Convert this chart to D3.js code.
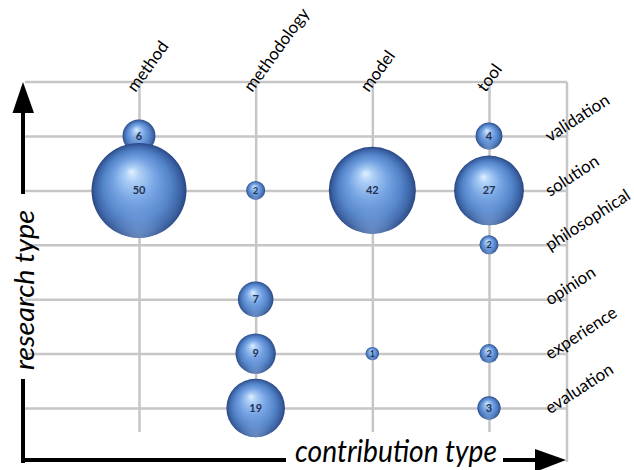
<!DOCTYPE html>
<html><head><meta charset="utf-8">
<script src="https://cdn.jsdelivr.net/npm/d3@7"></script>
<style>body{margin:0;background:#fff;overflow:hidden}</style>
</head><body><svg id="c" width="634" height="470"></svg>
<script>
// ---- data ----
const contributionTypes = ["method", "methodology", "model", "tool"];
const researchTypes = ["validation", "solution", "philosophical", "opinion", "experience", "evaluation"];
// counts per research type (same order as researchTypes), one array per contribution type
const method      = [6, 50, 0, 0, 0, 0];
const methodology = [0, 2, 0, 7, 9, 19];
const model       = [0, 42, 0, 0, 1, 0];
const tool        = [4, 27, 2, 0, 2, 3];
const xTitle = "contribution type";
const yTitle = "research type";

const series = { method, methodology, model, tool };
const cells = [];
researchTypes.forEach((r, i) => contributionTypes.forEach(c => {
  const v = series[c][i];
  if (v > 0) cells.push({ c, r, v });
}));

// ---- layout ----
const gridLeft = 25, gridRight = 567, gridTop = 82, gridBottom = 432;
const svg = d3.select("#c");
const font = "Lato, 'Open Sans', sans-serif";

const x = d3.scalePoint().domain(contributionTypes).range([139, 489]);
const y = d3.scalePoint().domain(researchTypes).range([136, 408]);
const rScale = d3.scaleSqrt().domain([0, 50]).range([0, 47.5]);

// gradient for the spheres
const defs = svg.append("defs");
const g1 = defs.append("radialGradient").attr("id", "ball")
  .attr("cx", "50%").attr("cy", "50%").attr("r", "50%")
  .attr("fx", "42%").attr("fy", "30%");
[[0, "#e2f1ff"], [0.15, "#aed0f7"], [0.45, "#74a2e2"], [0.72, "#5282c8"], [0.9, "#3a62a4"], [1, "#294682"]]
  .forEach(([o, c]) => g1.append("stop").attr("offset", o).attr("stop-color", c));
const g2 = defs.append("radialGradient").attr("id", "rim")
  .attr("cx", "50%").attr("cy", "100%").attr("r", "60%");
[[0, "#9fc4f2", 0.5], [0.5, "#9fc4f2", 0.12], [1, "#9fc4f2", 0]]
  .forEach(([o, c, a]) => g2.append("stop").attr("offset", o).attr("stop-color", c).attr("stop-opacity", a));

const gridColor = "#c6c6c6", gridW = 2.5;

// top border & right border
svg.append("line").attr("x1", gridLeft).attr("x2", gridRight).attr("y1", gridTop).attr("y2", gridTop)
  .attr("stroke", gridColor).attr("stroke-width", gridW);
svg.append("line").attr("x1", gridRight).attr("x2", gridRight).attr("y1", gridTop).attr("y2", 462)
  .attr("stroke", gridColor).attr("stroke-width", gridW);

// column axis (top) with vertical grid lines
const xAxis = svg.append("g").attr("transform", `translate(0,${gridTop})`)
  .call(d3.axisTop(x).tickSize(-(gridBottom - gridTop)).tickSizeOuter(0).tickPadding(0));
xAxis.select(".domain").remove();
xAxis.selectAll(".tick line").attr("stroke", gridColor).attr("stroke-width", gridW);
xAxis.selectAll(".tick text")
  .attr("x", 0).attr("y", 0).attr("dy", 0)
  .attr("text-anchor", "start")
  .attr("transform", "translate(-4,11) rotate(-54)")
  .attr("font-family", font).attr("font-size", 17).attr("fill", "#000");

// row axis (right) with horizontal grid lines
const yAxis = svg.append("g").attr("transform", `translate(${gridRight},0)`)
  .call(d3.axisRight(y).tickSize(-(gridRight - gridLeft)).tickSizeOuter(0).tickPadding(0));
yAxis.select(".domain").remove();
yAxis.selectAll(".tick line").attr("stroke", gridColor).attr("stroke-width", gridW);
yAxis.selectAll(".tick text")
  .attr("x", 0).attr("y", 0).attr("dy", 0)
  .attr("text-anchor", "start")
  .attr("transform", "translate(-17,6) rotate(-33)")
  .attr("font-family", font).attr("font-size", 17).attr("fill", "#000");

// bubbles
const b = svg.append("g").selectAll("g").data(cells).join("g")
  .attr("transform", d => `translate(${x(d.c)},${y(d.r)})`);
b.append("circle").attr("r", d => rScale(d.v)).attr("fill", "url(#ball)");
b.append("circle").attr("r", d => rScale(d.v)).attr("fill", "url(#rim)");
b.append("text").text(d => d.v)
  .attr("text-anchor", "middle").attr("dy", "0.35em")
  .attr("font-family", font).attr("font-weight", 700)
  .attr("font-size", d => rScale(d.v) < 10 ? 9 : 11)
  .attr("fill", "#243152");

// axis arrows
const k = "#000";
svg.append("rect").attr("x", 21).attr("y", 110).attr("width", 4).attr("height", 84).attr("fill", k);
svg.append("rect").attr("x", 21).attr("y", 379).attr("width", 4).attr("height", 84).attr("fill", k);
svg.append("path").attr("d", "M12.5,113 L23,82 L34,113 Z").attr("fill", k);
svg.append("rect").attr("x", 21).attr("y", 458).attr("width", 265).attr("height", 4).attr("fill", k);
svg.append("rect").attr("x", 503).attr("y", 458).attr("width", 34).attr("height", 4).attr("fill", k);
svg.append("path").attr("d", "M535,449 L566,460 L535,472 Z").attr("fill", k);

// titles
svg.append("text").text(xTitle)
  .attr("x", 295).attr("y", 462)
  .attr("font-family", font).attr("font-style", "italic").attr("font-size", 30)
  .attr("textLength", 202).attr("lengthAdjust", "spacingAndGlyphs").attr("fill", k);
svg.append("text").text(yTitle)
  .attr("transform", "translate(34,370) rotate(-90)")
  .attr("font-family", font).attr("font-style", "italic").attr("font-size", 27)
  .attr("textLength", 160).attr("lengthAdjust", "spacingAndGlyphs").attr("fill", k);
</script>
</body></html>
